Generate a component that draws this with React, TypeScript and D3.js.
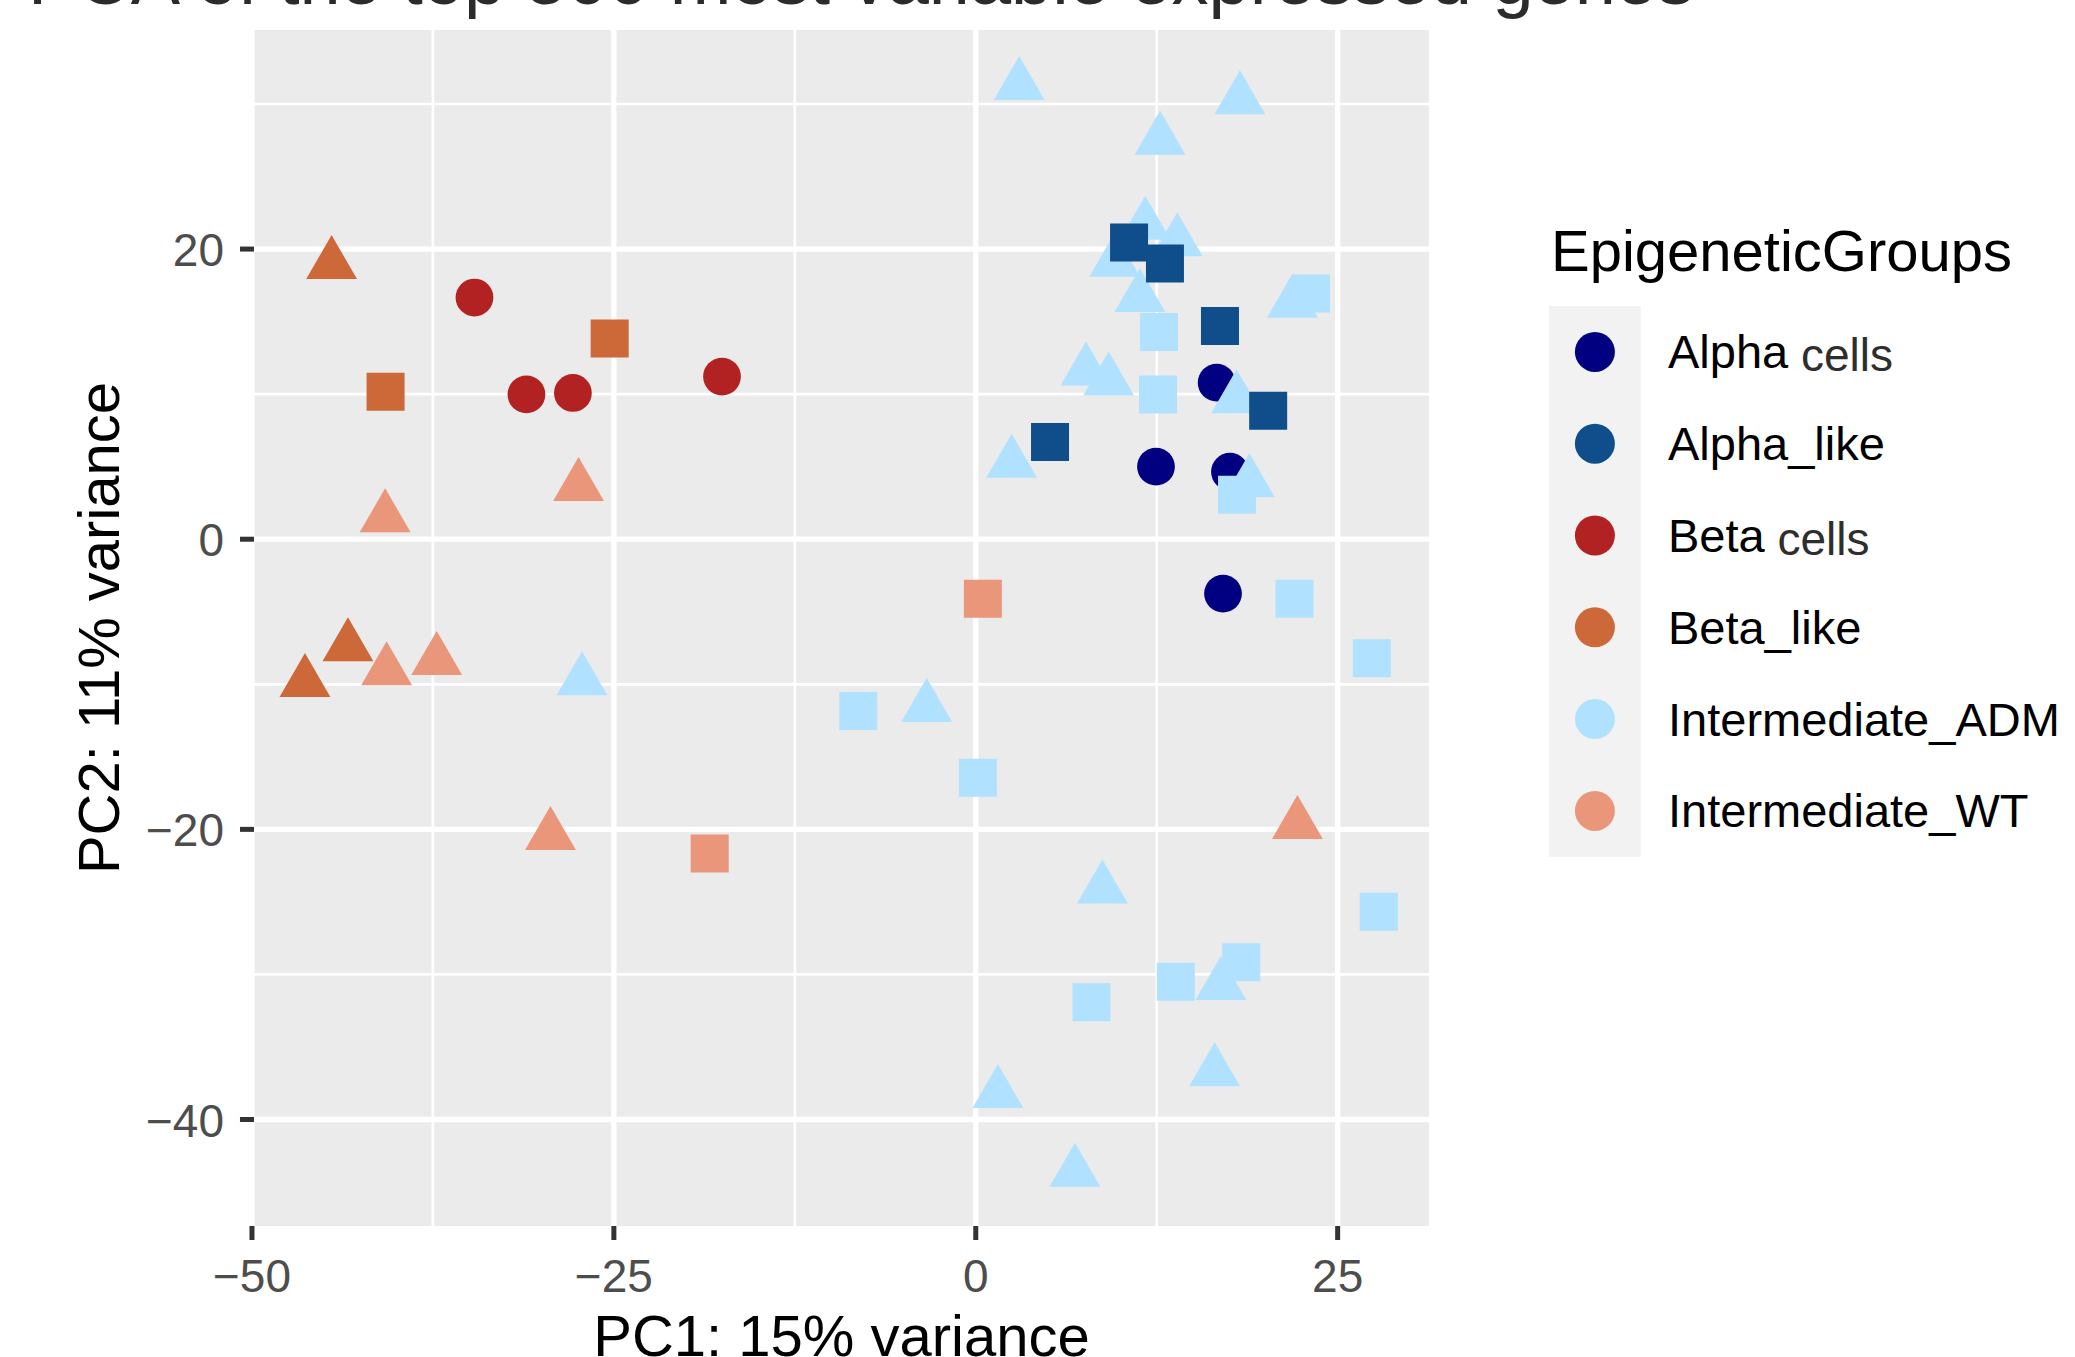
import * as d3 from "d3";

type Pt = [number, number, string];

const groups = ["Alpha cells", "Alpha_like", "Beta cells", "Beta_like", "Intermediate_ADM", "Intermediate_WT"];
const groupColors = ["#000080", "#104E8B", "#B22222", "#CD6839", "#B0E2FF", "#E9967A"];

// PC1, PC2, shape
const alphaCells: Pt[] = [
  [16.64, 10.79, "circle"],
  [12.45, 5.0, "circle"],
  [17.56, 4.65, "circle"],
  [17.08, -3.75, "circle"],
];
const alphaLike: Pt[] = [
  [10.59, 20.46, "square"],
  [13.07, 19.0, "square"],
  [16.87, 14.7, "square"],
  [20.2, 8.85, "square"],
  [5.13, 6.7, "square"],
];
const betaCells: Pt[] = [
  [-34.63, 16.66, "circle"],
  [-31.04, 9.98, "circle"],
  [-27.83, 10.08, "circle"],
  [-17.53, 11.21, "circle"],
];
const betaLike: Pt[] = [
  [-44.5, 18.94, "triangle"],
  [-40.77, 10.17, "square"],
  [-25.29, 13.83, "square"],
  [-43.37, -7.4, "triangle"],
  [-46.34, -9.86, "triangle"],
];
const intermediateADM: Pt[] = [
  [3.0, 31.28, "triangle"],
  [18.25, 30.31, "triangle"],
  [12.73, 27.52, "triangle"],
  [11.71, 21.65, "triangle"],
  [13.92, 20.51, "triangle"],
  [9.6, 19.1, "triangle"],
  [11.34, 16.67, "triangle"],
  [21.87, 16.27, "triangle"],
  [23.16, 16.93, "square"],
  [12.66, 14.29, "square"],
  [7.61, 11.6, "triangle"],
  [9.18, 10.92, "triangle"],
  [12.59, 9.97, "square"],
  [18.02, 9.69, "triangle"],
  [2.48, 5.25, "triangle"],
  [18.9, 3.91, "triangle"],
  [18.05, 3.06, "square"],
  [22.02, -4.1, "square"],
  [27.36, -8.2, "square"],
  [-8.12, -11.84, "square"],
  [-3.39, -11.58, "triangle"],
  [-27.2, -9.75, "triangle"],
  [0.15, -16.44, "square"],
  [8.75, -24.1, "triangle"],
  [27.84, -25.68, "square"],
  [13.82, -30.5, "square"],
  [16.93, -30.75, "triangle"],
  [18.34, -29.16, "square"],
  [7.99, -31.92, "square"],
  [16.5, -36.69, "triangle"],
  [1.53, -38.2, "triangle"],
  [6.85, -43.63, "triangle"],
];
const intermediateWT: Pt[] = [
  [-40.8, 1.49, "triangle"],
  [-27.44, 3.65, "triangle"],
  [-40.7, -9.06, "triangle"],
  [-37.24, -8.35, "triangle"],
  [-29.38, -20.41, "triangle"],
  [-18.38, -21.67, "square"],
  [0.49, -4.1, "square"],
  [22.22, -19.66, "triangle"],
];

const groupPoints = [alphaCells, alphaLike, betaCells, betaLike, intermediateADM, intermediateWT];
const drawOrder = [0, 4, 1, 2, 3, 5];

const xLimits = [-49.86, 31.31];
const yLimits = [-47.34, 35.1];
const xTicks = [-50, -25, 0, 25];
const xMinor = [-37.5, -12.5, 12.5];
const yTicks = [-40, -20, 0, 20];
const yMinor = [-30, -10, 10, 30];

const title = "PCA of the top 500 most variable expressed genes";
const xTitle = "PC1: 15% variance";
const yTitle = "PC2: 11% variance";
const legendTitle = "EpigeneticGroups";

const W = 2075;
const H = 1357;
const FONT = "'Liberation Sans', Arial, Helvetica, sans-serif";

const panel = { left: 254, right: 1429, top: 30, bottom: 1226 };

const shapeTypes: Record<string, d3.SymbolType> = {
  circle: d3.symbolCircle,
  square: d3.symbolSquare,
  triangle: d3.symbolTriangle,
};
const shapeSizes: Record<string, number> = { circle: 1120, square: 1444, triangle: 1120 };

const fmt = (v: number) => (v < 0 ? "\u2212" + Math.abs(v) : String(v));

export default function App() {
  const x = d3.scaleLinear().domain(xLimits).range([panel.left, panel.right]);
  const y = d3.scaleLinear().domain(yLimits).range([panel.bottom, panel.top]);

  const symbolPath = (shape: string) =>
    d3.symbol().type(shapeTypes[shape]).size(shapeSizes[shape])() as string;

  const legendX = 1549;
  const legendTop = 306;
  const keySize = 91.8;

  return (
    <svg
      width={W}
      height={H}
      style={{ position: "absolute", left: 0, top: 0, background: "#fff" }}
      fontFamily={FONT}
    >
      <rect x={0} y={0} width={W} height={H} fill="#fff" />
      <text x={28} y={4} fontSize={74} fill="#2b2b2b">
        {title}
      </text>

      <rect
        x={panel.left}
        y={panel.top}
        width={panel.right - panel.left}
        height={panel.bottom - panel.top}
        fill="#EBEBEB"
      />
      {xMinor.map((v) => (
        <line key={"xm" + v} x1={x(v)} x2={x(v)} y1={panel.top} y2={panel.bottom} stroke="#fff" strokeWidth={2.7} />
      ))}
      {yMinor.map((v) => (
        <line key={"ym" + v} x1={panel.left} x2={panel.right} y1={y(v)} y2={y(v)} stroke="#fff" strokeWidth={2.7} />
      ))}
      {xTicks.map((v) => (
        <line key={"xg" + v} x1={x(v)} x2={x(v)} y1={panel.top} y2={panel.bottom} stroke="#fff" strokeWidth={5.3} />
      ))}
      {yTicks.map((v) => (
        <line key={"yg" + v} x1={panel.left} x2={panel.right} y1={y(v)} y2={y(v)} stroke="#fff" strokeWidth={5.3} />
      ))}

      {drawOrder.map((gi) =>
        groupPoints[gi].map((p, i) => (
          <path
            key={gi + "-" + i}
            d={symbolPath(p[2])}
            transform={`translate(${x(p[0])},${y(p[1])})`}
            fill={groupColors[gi]}
          />
        ))
      )}

      {/* axes */}
      {xTicks.map((v) => (
        <g key={"xt" + v}>
          <line x1={x(v)} x2={x(v)} y1={panel.bottom} y2={panel.bottom + 14} stroke="#333" strokeWidth={5} />
          <text x={x(v)} y={1292} fontSize={46} fill="#4D4D4D" textAnchor="middle">
            {fmt(v)}
          </text>
        </g>
      ))}
      {yTicks.map((v) => (
        <g key={"yt" + v}>
          <line x1={panel.left - 14} x2={panel.left} y1={y(v)} y2={y(v)} stroke="#333" strokeWidth={5} />
          <text x={224} y={y(v) + 17} fontSize={46} fill="#4D4D4D" textAnchor="end">
            {fmt(v)}
          </text>
        </g>
      ))}
      <text x={(panel.left + panel.right) / 2} y={1356} fontSize={58} fill="#000" textAnchor="middle">
        {xTitle}
      </text>
      <text
        transform={`translate(119,${(panel.top + panel.bottom) / 2}) rotate(-90)`}
        fontSize={58}
        fill="#000"
        textAnchor="middle"
      >
        {yTitle}
      </text>

      {/* legend */}
      <text x={1551} y={271} fontSize={58} fill="#000">
        {legendTitle}
      </text>
      <rect x={legendX} y={legendTop} width={keySize} height={keySize * groups.length} fill="#F2F2F2" />
      {groups.map((g, i) => {
        const cy = legendTop + keySize * (i + 0.5);
        const parts = g.split(" ");
        return (
          <g key={g}>
            <circle cx={legendX + keySize / 2} cy={cy} r={20} fill={groupColors[i]} />
            <text x={1668} y={cy + 16.5} fontSize={47} fill="#000">
              {parts[0]}
              {parts.length > 1 && (
                <tspan fill="#2e2e2e" fontSize={46} dy={2.5}>
                  {" " + parts[1]}
                </tspan>
              )}
            </text>
          </g>
        );
      })}
    </svg>
  );
}
